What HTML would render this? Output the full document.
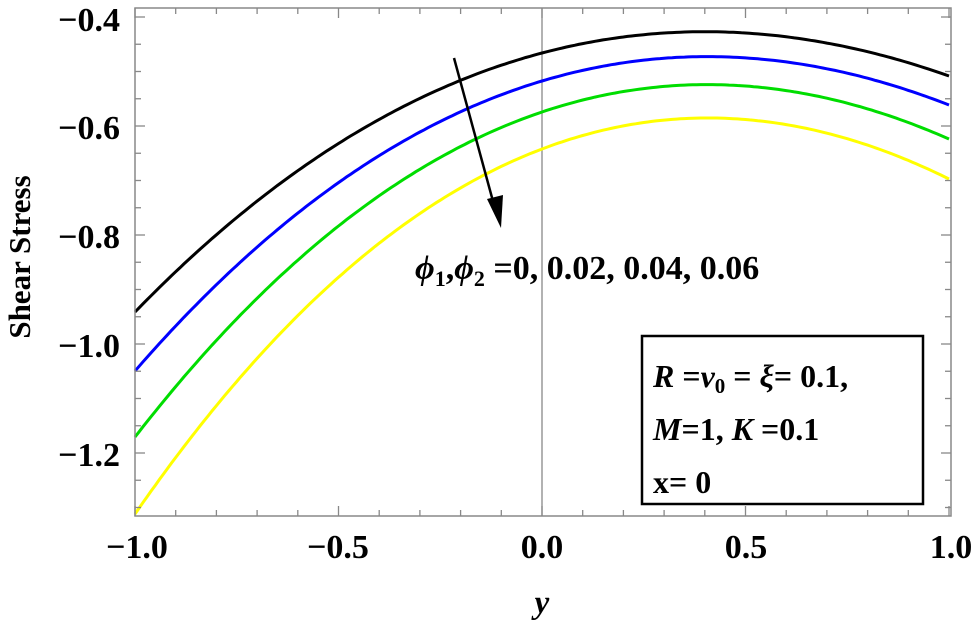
<!DOCTYPE html>
<html><head><meta charset="utf-8"><style>
body{margin:0;background:#fff;}
svg{display:block;font-family:"Liberation Serif",serif;}
</style></head><body>
<svg id="s" width="975" height="623" xmlns="http://www.w3.org/2000/svg">
<rect x="0" y="0" width="975" height="623" fill="#fff"/>
<line x1="542" y1="8" x2="542" y2="516" stroke="#888" stroke-width="1.3"/>
<g id="curves" fill="none" stroke-width="3"></g>
<g id="ticks" stroke="#888" stroke-width="1.3"></g>
<rect x="135" y="8" width="816" height="508" fill="none" stroke="#888" stroke-width="1.5"/>
<g font-weight="bold" font-size="34" text-anchor="end">
<text x="120" y="31">−0.4</text>
<text x="120" y="139">−0.6</text>
<text x="120" y="248">−0.8</text>
<text x="120" y="357">−1.0</text>
<text x="120" y="466">−1.2</text>
</g>
<g font-weight="bold" font-size="34" text-anchor="middle">
<text x="137" y="558">−1.0</text>
<text x="338" y="558">−0.5</text>
<text x="542" y="558">0.0</text>
<text x="746" y="558">0.5</text>
<text x="951" y="558">1.0</text>
</g>
<text x="0" y="0" transform="translate(30,257) rotate(-90)" font-weight="bold" font-size="31" text-anchor="middle">Shear Stress</text>
<text x="542" y="613" font-style="italic" font-weight="bold" font-size="33" text-anchor="middle">y</text>
<line x1="454" y1="58" x2="494" y2="205" stroke="#000" stroke-width="2.5"/>
<polygon points="501,228 487,199 503,195" fill="#000"/>
<text x="415" y="279" font-weight="bold" font-size="34"><tspan font-style="italic">ϕ</tspan><tspan font-size="22" dy="7">1</tspan><tspan dy="-7">,</tspan><tspan font-style="italic">ϕ</tspan><tspan font-size="22" dy="7">2</tspan><tspan dy="-7"> =0, 0.02, 0.04, 0.06</tspan></text>
<rect x="642" y="336" width="281" height="168" fill="#fff" stroke="#000" stroke-width="2.5"/>
<g font-weight="bold" font-size="32">
<text x="653" y="387"><tspan font-style="italic">R</tspan> =<tspan font-style="italic">v</tspan><tspan font-size="21" dy="6">0</tspan><tspan dy="-6"> = </tspan><tspan font-style="italic">ξ</tspan>= 0.1,</text>
<text x="653" y="440"><tspan font-style="italic">M</tspan>=1, <tspan font-style="italic">K</tspan> =0.1</text>
<text x="653" y="493">x= 0</text>
</g>
</svg>
<script>
var ns="http://www.w3.org/2000/svg";
var cs=[["#000",53,141,-10],["#00f",81,157,-11],["#0d0",112,176,-12],["#ff0",149,197.5,-13]];
var ends=[[312,76],[371,105],[437,139],[514,179]];
var g=document.getElementById("curves");
cs.forEach(function(c,j){var bd=(ends[j][1]-ends[j][0])/2;var d3=c[3];var b=bd-d3;var d="";for(var i=0;i<=200;i++){var y=-1+i/100;var px=542+407*y;var py=c[1]+b*y+c[2]*y*y+d3*y*y*y;d+=(i?"L":"M")+px.toFixed(1)+","+py.toFixed(1);}
var p=document.createElementNS(ns,"path");p.setAttribute("d",d);p.setAttribute("stroke",c[0]);g.appendChild(p);});
var t=document.getElementById("ticks");
function L(a,b,c,d){var l=document.createElementNS(ns,"line");l.setAttribute("x1",a);l.setAttribute("y1",b);l.setAttribute("x2",c);l.setAttribute("y2",d);t.appendChild(l);}
for(var i=-10;i<=10;i++){var x=542+40.7*i;var len=(i%5==0)?10:6;L(x,516,x,516-len);L(x,8,x,8+len);}
for(var v=-0.4;v>=-1.32;v-=0.05){var y=17+(-0.4-v)*545;var k=Math.round(v*100);var len=(k%20==0)?10:6;L(135,y,135+len,y);L(951,y,951-len,y);}
</script>
</body></html>
